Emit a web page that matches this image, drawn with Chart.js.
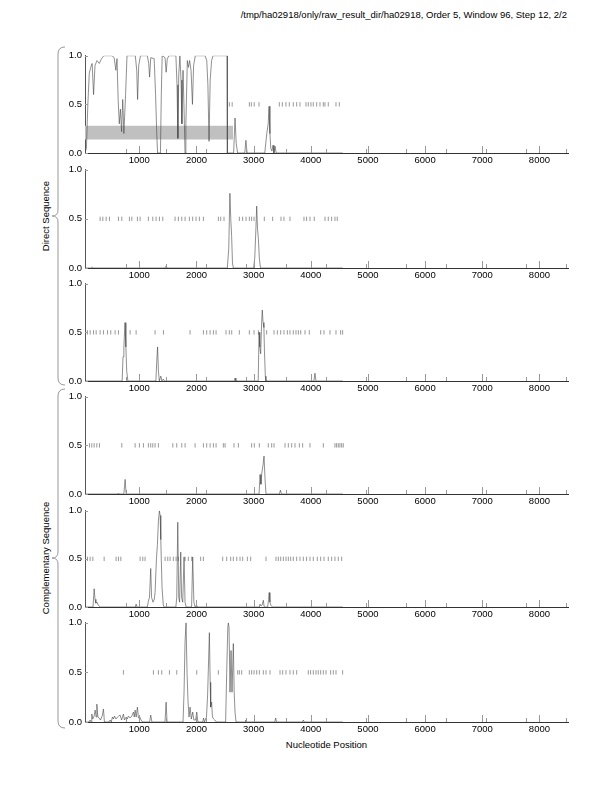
<!DOCTYPE html>
<html>
<head>
<meta charset="utf-8">
<style>
  body { margin: 0; width: 612px; height: 792px; background: #fff; position: relative; overflow: hidden;
         font-family: "Liberation Sans", Arial, sans-serif; color: #000; }
  .panel { position: absolute; left: 0; width: 612px; }
  .title { position: absolute; right: 45px; top: 9px; font-size: 9.5px; white-space: nowrap; }
  .xlab { position: absolute; left: 85px; width: 483px; top: 739px; text-align: center; font-size: 9.5px; }
  .ylab { position: absolute; width: 200px; height: 12px; line-height: 12px; text-align: center; color: #000;
          font-size: 9.5px; white-space: nowrap; transform: rotate(-90deg); }
  svg.braces { position: absolute; left: 0; top: 0; }
</style>
<script src="https://cdn.jsdelivr.net/npm/chart.js@4.4.6/dist/chart.umd.min.js"></script>
</head>
<body>
<div class="title">/tmp/ha02918/only/raw_result_dir/ha02918, Order 5, Window 96, Step 12, 2/2</div>
<div class="xlab">Nucleotide Position</div>
<div class="ylab" style="left:-54px; top:210px;">Direct Sequence</div>
<div class="ylab" style="left:-54px; top:552px;">Complementary Sequence</div>
<svg class="braces" width="612" height="792">
  <path d="M 65 47 Q 58 47 58 54 L 58 210 Q 58 216 52 216 Q 58 216 58 222 L 58 378 Q 58 385 65 385" fill="none" stroke="#999" stroke-width="1"/>
  <path d="M 65 389 Q 58 389 58 396 L 58 552 Q 58 558 52 558 Q 58 558 58 564 L 58 721 Q 58 728 65 728" fill="none" stroke="#999" stroke-width="1"/>
</svg>
<script>
// axis setup
const xMin = 50, xMax = 8500;
const xTickValues = [1000, 2000, 3000, 4000, 5000, 6000, 7000, 8000];
const xMinorTicks = [760, 1460, 2160, 2860, 3560, 4260, 4960, 5660, 6360, 7060, 7760, 8460];
const yTickValues = [0, 0.5, 1];
const stopLevel = 0.5;

// predicted gene bar (frame 1, direct)
const geneBarX = [50, 2640];
const geneBarY = [0.14, 0.28];

// coding potential per frame: [position, value]
const direct1 = [[50,0],[75,0.05],[100,0.5],[125,0.82],[150,0.88],[175,0.92],[200,0.6],[225,0.9],[260,0.95],[300,0.92],
  [340,0.97],[380,1.0],[520,1.0],[560,0.98],[590,0.85],[610,0.97],[630,0.55],[650,0.3],[670,0.45],[690,0.22],
  [710,0.55],[730,0.2],[760,0.6],[785,1.0],[930,1.0],[955,0.85],[970,0.55],[990,0.9],[1020,1.0],[1140,1.0],
  [1165,0.92],[1180,0.78],[1200,0.98],[1260,0.97],[1285,0.6],[1305,0.2],[1320,0],[1370,0],[1385,0.6],[1400,1.0],
  [1450,0.98],[1470,0.83],[1490,0.97],[1520,1.0],[1640,1.0],[1660,0.7],[1675,0.15],[1690,0.8],[1710,1.0],[1730,0.75],
  [1745,0.3],[1765,0.85],[1785,0.4],[1800,0],[1815,0.3],[1840,0.95],[1860,0.88],[1880,0.95],[1905,0.85],[1930,0.5],
  [1950,0.9],[1980,1.0],[2150,1.0],[2180,0.95],[2200,0.7],[2220,0.12],[2240,0.75],[2265,0.95],[2290,1.0],[2536,1.0],
  [2541,0],[2650,0],[2675,0.36],[2695,0.1],[2720,0],[2845,0],[2865,0.13],[2885,0],[3195,0],[3230,0.2],
  [3255,0.3],[3270,0.48],[3285,0.2],[3300,0.05],[3320,0.02],[3340,0.08],[3355,0],[3375,0.07],[3395,0],[4560,0]];
const direct2 = [[50,0],[150,0],[170,0.01],[190,0],[1450,0],[1469,0.02],[1490,0],[2540,0],[2565,0.2],[2585,0.76],
  [2600,0.5],[2615,0.33],[2630,0.05],[2645,0],[3000,0],[3020,0.1],[3040,0.4],[3054,0.63],[3068,0.4],[3083,0.3],
  [3100,0.1],[3120,0],[4560,0]];
const direct3 = [[50,0],[700,0],[715,0.25],[730,0.35],[750,0.6],[765,0.35],[780,0.1],[800,0],[1290,0],[1305,0.2],
  [1320,0.35],[1335,0.1],[1350,0],[1376,0.05],[1395,0],[1420,0.02],[1440,0],[2660,0],[2675,0.03],[2690,0],
  [3080,0],[3095,0.5],[3108,0.35],[3123,0.28],[3140,0.6],[3152,0.73],[3165,0.6],[3180,0.55],[3190,0.3],[3205,0.05],
  [3215,0],[4055,0],[4073,0.08],[4090,0],[4560,0]];
const comp1 = [[50,0],[620,0],[635,0.01],[650,0],[730,0],[752,0.15],[770,0],[3095,0],[3112,0.2],[3128,0.1],
  [3140,0.2],[3165,0.3],[3182,0.39],[3200,0.15],[3217,0],[3450,0],[3470,0.04],[3485,0],[4560,0]];
const comp2 = [[50,0],[190,0],[210,0.19],[225,0.08],[240,0.04],[260,0.05],[280,0.02],[315,0],[930,0],[944,0.03],
  [960,0],[1140,0],[1159,0.06],[1178,0.1],[1200,0.4],[1215,0.1],[1240,0.05],[1262,0.08],[1276,0.15],[1300,0.5],
  [1317,0.65],[1335,0.9],[1352,1.0],[1365,0.95],[1376,0.7],[1398,0.2],[1420,0.02],[1434,0],[1640,0],[1655,0.1],
  [1673,0.88],[1690,0.1],[1705,0.05],[1725,0.57],[1740,0.1],[1760,0.05],[1783,0.52],[1800,0.05],[1820,0],[1915,0],
  [1934,0.52],[1955,0.05],[1976,0],[2000,0.02],[2020,0],[3100,0],[3112,0.03],[3130,0.01],[3150,0.02],[3170,0.07],
  [3185,0],[3245,0],[3262,0.08],[3272,0.15],[3285,0.05],[3300,0.02],[3330,0],[4560,0]];
const comp3 = [[50,0],[120,0],[140,0.02],[155,0],[169,0.08],[185,0.03],[210,0.06],[227,0.12],[245,0.05],[257,0.18],
  [275,0.05],[300,0.04],[320,0.02],[350,0.06],[373,0.13],[390,0],[470,0],[490,0.02],[510,0],[530,0.05],
  [548,0.03],[565,0.06],[590,0.03],[620,0.05],[640,0.06],[664,0.07],[690,0.02],[722,0.08],[740,0.02],[770,0.05],
  [790,0.03],[810,0.06],[840,0.04],[870,0.06],[897,0.1],[912,0.05],[927,0.12],[945,0.05],[967,0.15],[985,0.04],
  [1010,0.05],[1030,0.02],[1060,0],[1180,0],[1200,0.07],[1220,0],[1450,0],[1469,0.2],[1485,0],[1765,0],
  [1783,0.3],[1800,0.8],[1818,1.0],[1835,0.5],[1853,0.2],[1870,0.05],[1888,0.15],[1910,0.03],[1934,0.1],[1955,0.02],
  [1985,0.02],[2005,0.1],[2025,0],[2110,0],[2125,0.04],[2140,0],[2175,0.05],[2195,0.27],[2226,0.9],[2240,0.4],
  [2249,0.15],[2265,0.2],[2280,0.05],[2300,0.03],[2320,0.02],[2350,0],[2510,0],[2529,0.5],[2548,0.95],[2558,1.0],
  [2570,0.95],[2587,0.3],[2605,0.72],[2622,0.3],[2645,0.79],[2660,0.3],[2675,0.1],[2692,0],[2850,0],[2862,0.02],
  [2875,0],[3370,0],[3386,0.04],[3400,0],[3855,0],[3869,0.02],[3885,0],[4560,0]];

// stop codon positions per frame
const direct1Stops = [2575,2625,2925,2960,3010,3094,3450,3502,3565,3624,3694,3753,3811,3916,3956,4003,4044,4103,
  4161,4219,4248,4306,4441,4499];
const direct2Stops = [315,362,420,478,635,694,827,869,967,1014,1159,1236,1294,1352,1411,1626,1684,1743,1801,1876,
  1934,1993,2051,2121,2383,2424,2482,2750,2808,2867,2925,2965,3007,3187,3333,3479,3531,3636,3881,3927,3986,4061,
  4248,4306,4365,4423,4463];
const direct3Stops = [93,140,198,245,315,373,443,501,577,635,839,944,1276,1422,1888,2121,2179,2238,2296,2343,2517,
  2575,2617,2750,2925,3007,3083,3228,3357,3415,3474,3531,3590,3636,3694,3741,3782,3824,3899,3974,4173,4231,4336,
  4441,4522,4557];
const comp1Stops = [128,169,210,257,303,694,927,1002,1072,1159,1200,1236,1276,1334,1586,1655,1743,1801,1976,2121,
  2179,2238,2296,2343,2470,2500,2657,2733,2965,3012,3100,3257,3316,3357,3549,3607,3666,3724,3800,3858,3986,4219,
  4423,4452,4481,4510,4540,4568];
const comp2Stops = [93,140,187,385,594,635,677,1014,1061,1101,1451,1498,1538,1596,1643,1684,1801,1858,1917,2074,
  2121,2459,2529,2599,2645,2705,2762,2809,2890,2949,3217,3392,3432,3474,3520,3566,3607,3648,3694,3753,3811,3869,
  3927,3986,4044,4114,4173,4231,4306,4365,4423,4481,4540];
const comp3Stops = [722,1247,1334,1393,1527,1655,2005,2383,2722,2750,2791,2925,2965,3007,3054,3100,3170,3217,3287,
  3462,3508,3566,3636,3694,3753,3956,3997,4044,4091,4131,4173,4219,4266,4347,4394,4441,4557];

const panels = [
  { line: direct1, stops: direct1Stops, bar: true },
  { line: direct2, stops: direct2Stops },
  { line: direct3, stops: direct3Stops },
  { line: comp1, stops: comp1Stops },
  { line: comp2, stops: comp2Stops },
  { line: comp3, stops: comp3Stops }
];
const plotTops = [55, 169, 283, 396, 510, 622];
const plotBottoms = [153, 268, 381, 494, 607, 722];

const font = { family: 'Liberation Sans', size: 9.5 };

// ticks drawn inward, like the original plot
const innerTicks = {
  id: 'innerTicks',
  afterDatasetsDraw(chart) {
    const { ctx, chartArea: a, scales: { x, y } } = chart;
    ctx.save();
    ctx.strokeStyle = '#999';
    ctx.lineWidth = 1;
    ctx.beginPath();
    xTickValues.forEach(v => {
      const px = Math.round(x.getPixelForValue(v)) + 0.5;
      ctx.moveTo(px, a.bottom); ctx.lineTo(px, a.bottom - 7);
    });
    xMinorTicks.forEach(v => {
      const px = Math.round(x.getPixelForValue(v)) + 0.5;
      ctx.moveTo(px, a.bottom); ctx.lineTo(px, a.bottom - 4);
    });
    yTickValues.forEach(v => {
      const py = Math.round(y.getPixelForValue(v)) + 0.5;
      ctx.moveTo(a.left, py); ctx.lineTo(a.left + 3, py);
    });
    ctx.stroke();
    ctx.restore();
  }
};

function makeChart(i) {
  const p = panels[i];
  const padTop = 8, axisH = 16;
  const h = plotBottoms[i] - plotTops[i];
  const wrap = document.createElement('div');
  wrap.className = 'panel';
  wrap.style.top = (plotTops[i] - padTop) + 'px';
  wrap.style.height = (h + padTop + axisH) + 'px';
  const cv = document.createElement('canvas');
  wrap.appendChild(cv);
  document.body.appendChild(wrap);

  const datasets = [];
  if (p.bar) {
    datasets.push({
      type: 'line',
      data: geneBarX.map(x => ({ x: x, y: geneBarY[1] })),
      fill: { value: geneBarY[0] },
      backgroundColor: '#c0c0c0',
      borderWidth: 0,
      pointRadius: 0,
      order: 3
    });
  }
  datasets.push({
    type: 'scatter',
    data: p.stops.map(x => ({ x: x, y: stopLevel })),
    pointStyle: 'line',
    pointRotation: 90,
    pointRadius: 2.2,
    pointBorderColor: '#999',
    pointBorderWidth: 1,
    order: 2
  });
  datasets.push({
    type: 'line',
    data: p.line.map(d => ({ x: d[0], y: d[1] })),
    borderColor: '#444',
    borderWidth: 0.6,
    pointRadius: 0,
    tension: 0,
    order: 1
  });

  new Chart(cv, {
    type: 'line',
    data: { datasets: datasets },
    options: {
      responsive: true,
      maintainAspectRatio: false,
      animation: false,
      events: [],
      layout: { padding: { top: padTop, right: 44, left: 0, bottom: 0 } },
      plugins: { legend: { display: false }, tooltip: { enabled: false } },
      scales: {
        x: {
          type: 'linear', min: xMin, max: xMax,
          afterBuildTicks: s => { s.ticks = xTickValues.map(v => ({ value: v })); },
          afterFit: s => { s.height = axisH; },
          grid: { display: false, drawTicks: false },
          border: { display: true, color: '#333', width: 1 },
          ticks: { color: '#000', font: font, padding: 2, maxRotation: 0, autoSkip: false, callback: v => String(v) }
        },
        y: {
          type: 'linear', min: 0, max: 1,
          afterBuildTicks: s => { s.ticks = yTickValues.map(v => ({ value: v })); },
          afterFit: s => { s.width = 85; },
          grid: { display: false, drawTicks: false },
          border: { display: true, color: '#555', width: 1 },
          ticks: { color: '#000', font: font, padding: 3, callback: v => v.toFixed(1) }
        }
      }
    },
    plugins: [innerTicks]
  });
}

for (let i = 0; i < panels.length; i++) makeChart(i);
</script>
</body>
</html>
